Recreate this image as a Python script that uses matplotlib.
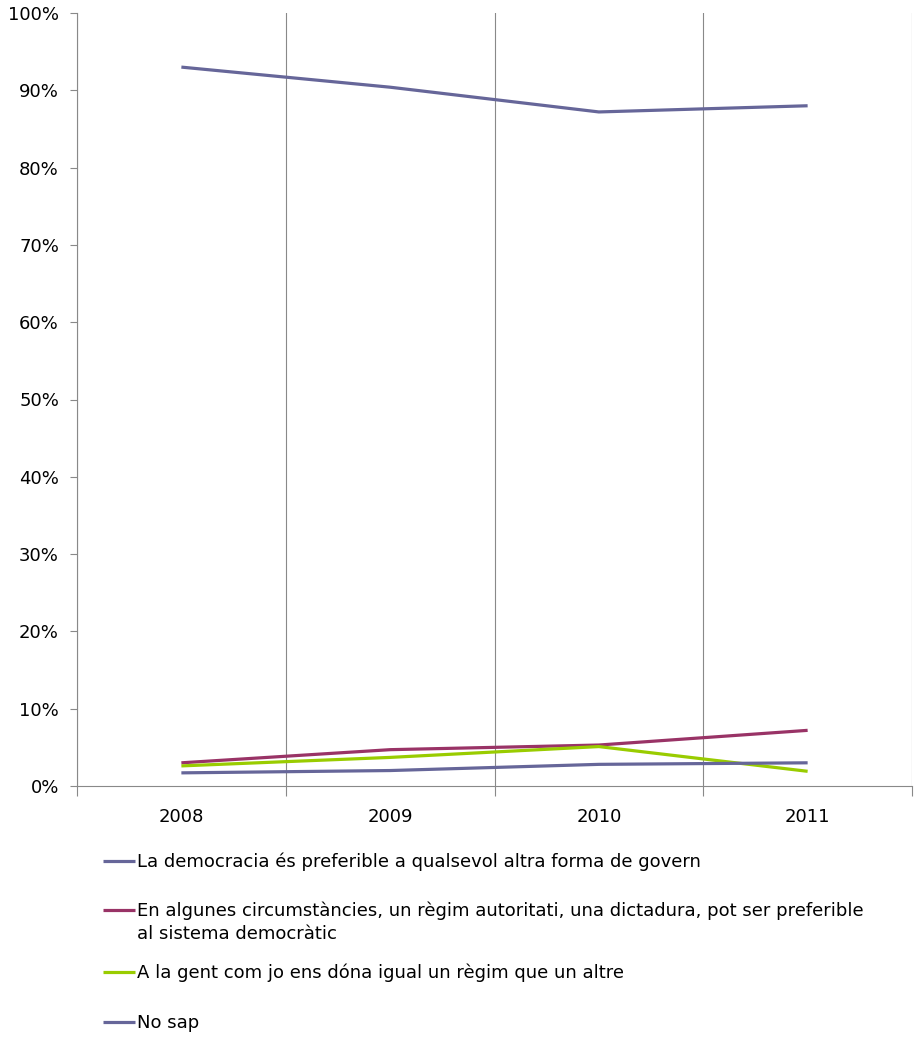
import numpy as np
import matplotlib.pyplot as plt
from matplotlib.ticker import FixedLocator, FuncFormatter

years = ['2008', '2009', '2010', '2011']
democracia = [93.0, 90.4, 87.2, 88.0]
autoritari = [3.0, 4.7, 5.3, 7.2]
igual = [2.6, 3.7, 5.1, 1.9]
no_sap = [1.7, 2.0, 2.8, 3.0]

labels = [
    'La democracia és preferible a qualsevol altra forma de govern',
    'En algunes circumstàncies, un règim autoritati, una dictadura, pot ser preferible',
    'A la gent com jo ens dóna igual un règim que un altre',
    'No sap',
]
label2_cont = 'al sistema democràtic'
colors = ['#666699', '#993366', '#99CC00', '#666699']

plt.rcParams['font.family'] = ['DejaVu Sans']
plt.rcParams['font.size'] = 13

fig = plt.figure(figsize=(9.14, 10.38), dpi=100)
ax = fig.add_axes([77/914, 1-786/1038, (912-77)/914, (786-13)/1038])

x = np.arange(len(years))
lines = []
for vals, lab, col in zip([democracia, autoritari, igual, no_sap], labels, colors):
    ln, = ax.plot(x, vals, color=col, lw=2.3, label=lab, solid_capstyle='butt')
    lines.append(ln)

gray = '#898989'
ax.set_xlim(-0.5, len(years) - 0.5)
ax.set_ylim(0, 100)
ax.set_yticks(np.arange(0, 101, 10))
ax.yaxis.set_major_formatter(FuncFormatter(lambda v, p: f'{v:.0f}%'))
ax.set_xticks(x)
ax.set_xticklabels(years)
ax.xaxis.set_minor_locator(FixedLocator(np.arange(-0.5, len(years), 1)))
ax.tick_params(axis='x', which='major', length=0, pad=16)
ax.tick_params(axis='x', which='minor', length=7, color=gray, width=0.8)
ax.tick_params(axis='y', length=5, color=gray, width=0.8, pad=8)
ax.grid(True, axis='x', which='minor', color=gray, lw=0.8)
ax.set_axisbelow(True)
for s in ['top', 'right']:
    ax.spines[s].set_visible(False)
for s in ['left', 'bottom']:
    ax.spines[s].set_color(gray)
    ax.spines[s].set_linewidth(0.8)

# legend rows, one by one so the second label wraps like the original
row_y = [862, 911, 973, 1023]
for ln, y in zip(lines, row_y):
    fig.legend(handles=[ln], loc='center left', bbox_to_anchor=(103/914, 1-y/1038),
               frameon=False, borderpad=0, borderaxespad=0, handlelength=1.75,
               handletextpad=0.12, fontsize=13)
fig.text(103/914 + (1.75+0.12)*13*100/72/914, 1-934/1038, label2_cont,
         fontsize=13, va='center', ha='left')

fig.savefig('out.png', dpi=100)
